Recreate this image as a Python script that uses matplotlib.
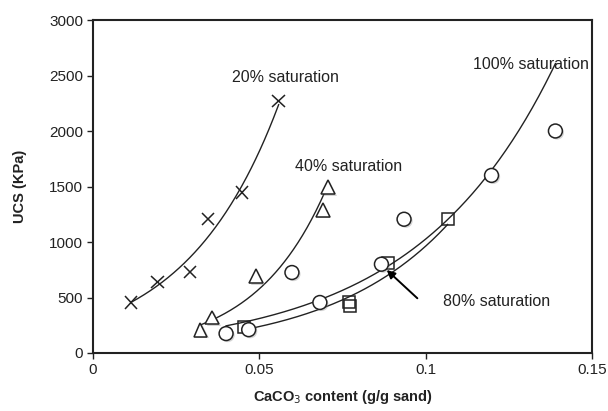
import numpy as np
import matplotlib
matplotlib.use("Agg")
import matplotlib.pyplot as plt
import matplotlib.patheffects as pe

plt.rcParams['font.family'] = ['Liberation Sans', 'DejaVu Sans']

# CaCO3 content (g/g sand) and UCS (kPa) for each saturation level
x20 = [0.0114, 0.0194, 0.0292, 0.0345, 0.0448, 0.0558]
y20 = [455, 640, 730, 1205, 1445, 2270]

x40 = [0.0323, 0.0358, 0.0491, 0.0691, 0.0707]
y40 = [210, 320, 690, 1290, 1495]

x80 = [0.0455, 0.0769, 0.0774, 0.0887, 0.1066]
y80 = [230, 460, 425, 815, 1205]

x100 = [0.0400, 0.0468, 0.0598, 0.0682, 0.0867, 0.0935, 0.1198, 0.1390]
y100 = [175, 210, 725, 455, 800, 1205, 1600, 2000]

labels = ["20% saturation", "40% saturation", "80% saturation", "100% saturation"]

xticks = [0, 0.05, 0.1, 0.15]
xticklabels = ["0", "0.05", "0.1", "0.15"]
yticks = [0, 500, 1000, 1500, 2000, 2500, 3000]

ink = "#222222"

fig = plt.figure(figsize=(6.08, 4.11), dpi=100)
ax = fig.add_axes([93 / 608, 1 - 353 / 411, (592 - 93) / 608, (353 - 20) / 411])


def exp_trend(xs, ys):
    b, ln_a = np.polyfit(np.asarray(xs), np.log(np.asarray(ys)), 1)
    xx = np.linspace(min(xs), max(xs), 200)
    return xx, np.exp(ln_a) * np.exp(b * xx)


for xs, ys in [(x20, y20), (x40, y40), (x80, y80), (x100, y100)]:
    xx, yy = exp_trend(xs, ys)
    ax.plot(xx, yy, color=ink, lw=1.0, zorder=2)

shadow = [pe.SimplePatchShadow(offset=(1.2, -1.2), shadow_rgbFace="#888888", alpha=0.35), pe.Normal()]

ax.plot(x20, y20, ls="none", marker="x", ms=9, mew=1.1, color=ink, zorder=3,
        path_effects=shadow)
ax.plot(x40, y40, ls="none", marker="^", ms=10, mew=1.1, mec=ink, mfc="white",
        zorder=3, path_effects=shadow)
ax.plot(x80, y80, ls="none", marker="s", ms=9, mew=1.1, mec=ink, mfc="none",
        zorder=3)
ax.plot(x100, y100, ls="none", marker="o", ms=10, mew=1.1, mec=ink, mfc="white",
        zorder=4, path_effects=shadow)

fs = 11.5
ax.text(0.0578, 2484, labels[0], ha="center", va="center", fontsize=fs, color=ink)
ax.text(0.0767, 1680, labels[1], ha="center", va="center", fontsize=fs, color=ink)
ax.text(0.1315, 2603, labels[3], ha="center", va="center", fontsize=fs, color=ink)
ax.text(0.1053, 468, labels[2], ha="left", va="center", fontsize=fs, color=ink)
ax.annotate("", xy=(0.0883, 748), xytext=(0.0975, 493),
            arrowprops=dict(arrowstyle="-|>", color="black", lw=1.4,
                            mutation_scale=12, shrinkA=0, shrinkB=0),
            zorder=5)

ax.set_xlim(0, 0.15)
ax.set_ylim(0, 3000)
ax.set_xticks(xticks)
ax.set_xticklabels(xticklabels)
ax.set_yticks(yticks)
ax.tick_params(direction="out", length=4, width=1.0, color=ink, labelsize=11,
               labelcolor=ink, pad=3)
for s in ax.spines.values():
    s.set_linewidth(1.5)
    s.set_color(ink)

ax.set_xlabel("CaCO$_3$ content (g/g sand)", fontsize=10.5, fontweight="bold",
              color=ink, labelpad=8)
ax.set_ylabel("UCS (KPa)", fontsize=10.5, fontweight="bold", color=ink, labelpad=16)

fig.savefig("out.png", dpi=100, facecolor="white")
